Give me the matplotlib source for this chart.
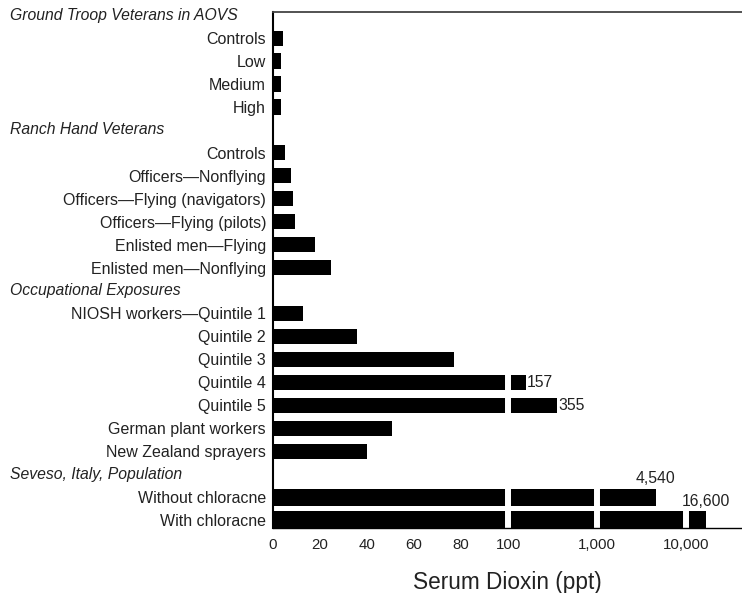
import numpy as np
import matplotlib
matplotlib.use("Agg")
import matplotlib.pyplot as plt
from matplotlib.transforms import blended_transform_factory

# data
groups = ["Ground Troop Veterans in AOVS", "Ranch Hand Veterans",
          "Occupational Exposures", "Seveso, Italy, Population"]
ground_labels = ["Controls", "Low", "Medium", "High"]
ground_values = [4.3, 3.5, 3.5, 3.5]
ranch_labels = ["Controls", "Officers\u2014Nonflying", "Officers\u2014Flying (navigators)",
                "Officers\u2014Flying (pilots)", "Enlisted men\u2014Flying",
                "Enlisted men\u2014Nonflying"]
ranch_values = [5.2, 7.7, 8.5, 9.5, 17.8, 24.5]
occ_labels = ["NIOSH workers\u2014Quintile 1", "Quintile 2", "Quintile 3", "Quintile 4",
              "Quintile 5", "German plant workers", "New Zealand sprayers"]
occ_values = [12.9, 35.6, 77, 157, 355, 50.6, 40.1]
seveso_labels = ["Without chloracne", "With chloracne"]
seveso_values = [4540, 16600]

tick_values = [0, 20, 40, 60, 80, 100, 1000, 10000]
tick_labels = ["0", "20", "40", "60", "80", "100", "1,000", "10,000"]
annotated = {157: "157", 355: "355", 4540: "4,540", 16600: "16,600"}

DECADE = 37.9  # width of one log decade above 100, in linear units


def forward(x):
    x = np.asarray(x, dtype=float)
    return np.where(x <= 100, x, 100 + DECADE * np.log10(np.maximum(x, 100) / 100))


def inverse(y):
    y = np.asarray(y, dtype=float)
    return np.where(y <= 100, y, 100 * 10 ** ((np.maximum(y, 100) - 100) / DECADE))


# build rows: header rows are empty slots
rows = []
for g, labs, vals in zip(groups, [ground_labels, ranch_labels, occ_labels, seveso_labels],
                         [ground_values, ranch_values, occ_values, seveso_values]):
    rows.append((g, None, True))
    for l, v in zip(labs, vals):
        rows.append((l, v, False))

plt.rcParams["font.family"] = ["Liberation Sans", "DejaVu Sans"]
txt = "#222222"
fig = plt.figure(figsize=(7.42, 5.93), dpi=100)
ax = fig.add_axes([273 / 742, 1 - 528 / 593, 1 - 273 / 742, (528 - 11.7) / 593])
ax.set_xscale("function", functions=(forward, inverse))

trans = blended_transform_factory(fig.transFigure, ax.transData)
for i, (lab, val, is_header) in enumerate(rows):
    if is_header:
        ax.text(10 / 742, i, lab, transform=trans, ha="left", va="center",
                fontsize=11.3, style="italic", color=txt)
        continue
    h = 0.74 if val > 1000 else 0.66
    ax.barh(i, val, height=h, color="black", zorder=1)
    if val in annotated:
        if val > 1000:
            ax.text(val, i - 0.48, annotated[val], ha="center", va="bottom",
                    fontsize=11.3, color=txt)
        else:
            ax.text(val * 1.02, i, annotated[val], ha="left", va="center",
                    fontsize=11.3, color=txt)

# white breaks in the bars at the scale changes
for b in [100, 1000, 10000]:
    ax.axvline(b, color="white", linewidth=4.3, zorder=1.5)

ax.set_yticks([i for i, r in enumerate(rows) if not r[2]])
ax.set_yticklabels([r[0] for r in rows if not r[2]], fontsize=11.5, color=txt)
ax.set_ylim(len(rows) - 1 + 0.35, -0.15)
ax.set_xlim(0, 42000)
ax.set_xticks(tick_values)
ax.set_xticklabels(tick_labels, fontsize=10.8, color=txt)
ax.tick_params(axis="both", length=0)
ax.tick_params(axis="x", pad=7)
ax.tick_params(axis="y", pad=5)
ax.minorticks_off()

ax.spines["right"].set_visible(False)
ax.spines["left"].set_linewidth(1.5)
ax.spines["top"].set_linewidth(1.3)
ax.spines["top"].set_color("#444444")
ax.spines["bottom"].set_linewidth(1.0)
ax.set_xlabel("Serum Dioxin (ppt)", fontsize=16.3, labelpad=14, color=txt)

fig.savefig("out.png", dpi=100)
